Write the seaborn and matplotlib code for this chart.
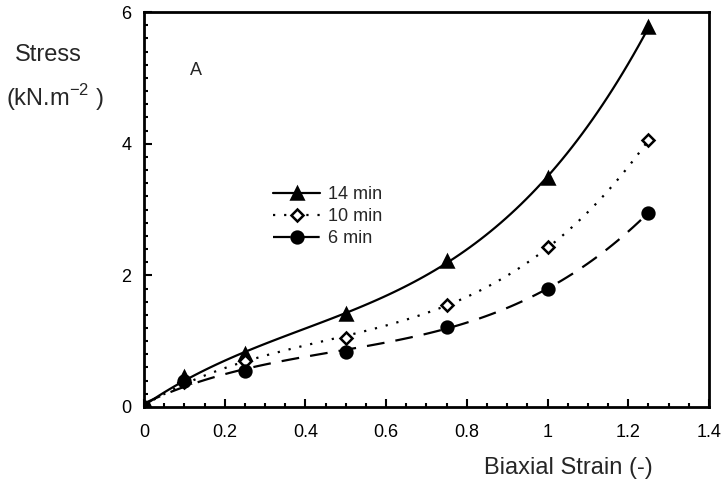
import numpy as np
import pandas as pd
import matplotlib
matplotlib.use("Agg")
import matplotlib.pyplot as plt
import seaborn as sns
from matplotlib.ticker import MultipleLocator, FormatStrFormatter
from matplotlib.lines import Line2D

# strain values and measured stress for the three times
strain = [0, 0.1, 0.25, 0.5, 0.75, 1.0, 1.25]
stress_14 = [0.0, 0.45, 0.80, 1.42, 2.22, 3.48, 5.77]
stress_10 = [0.0, 0.38, 0.70, 1.05, 1.55, 2.43, 4.05]
stress_6 = [0.0, 0.40, 0.55, 0.83, 1.22, 1.80, 2.95]
labels = ["14 min", "10 min", "6 min"]

data = pd.DataFrame({"strain": strain * 3,
                     "stress": stress_14 + stress_10 + stress_6,
                     "time": [labels[0]] * 7 + [labels[1]] * 7 + [labels[2]] * 7})

sns.set_style("ticks")
plt.rcParams["font.family"] = ["Liberation Sans", "DejaVu Sans"]

fig = plt.figure(figsize=(7.22, 4.86), dpi=100)
ax = fig.add_axes([0.1994, 0.1626, 0.7826, 0.8124])

# line style, marker, face colour, marker size
styles = {"14 min": ("-", "^", "black", 8),
          "10 min": ((0, (1, 4)), "D", "white", 6.5),
          "6 min": ((0, (8, 5)), "o", "black", 8.5)}

handles = []
for t in labels:
    ls, mk, fc, ms = styles[t]
    sub = data[data["time"] == t]
    sns.regplot(x="strain", y="stress", data=sub, order=3, ci=None, scatter=False,
                truncate=True, ax=ax, line_kws={"color": "black", "lw": 1.6, "ls": ls})
    ax.plot(sub["strain"], sub["stress"], ls="none", marker=mk, ms=ms,
            mfc=fc, mec="black", mew=1.8, zorder=5)
    handles.append(Line2D([], [], color="black", lw=1.6, ls=ls, marker=mk,
                          ms=ms, mfc=fc, mec="black", mew=1.8))

ax.set_xlim(0, 1.4)
ax.set_ylim(0, 6)
ax.xaxis.set_major_locator(MultipleLocator(0.2))
ax.xaxis.set_minor_locator(MultipleLocator(0.05))
ax.yaxis.set_major_locator(MultipleLocator(2))
ax.yaxis.set_minor_locator(MultipleLocator(0.2))
ax.xaxis.set_major_formatter(FormatStrFormatter("%g"))
ax.yaxis.set_major_formatter(FormatStrFormatter("%g"))
ax.tick_params(which="both", direction="in", width=1.5, labelsize=13, colors="black")
ax.tick_params(which="major", length=6)
ax.tick_params(axis="x", which="major", pad=12)
ax.tick_params(axis="y", which="major", pad=9)
ax.tick_params(which="minor", length=3)
for s in ax.spines.values():
    s.set_linewidth(2)
    s.set_color("black")
ax.set_xlabel("")
ax.set_ylabel("")

ax.legend(handles, labels, loc="upper left", bbox_to_anchor=(0.2, 0.6), frameon=False,
          fontsize=13, handlelength=2.6, handletextpad=0.45, labelspacing=0.28)

ax.text(0.13, 5.12, "A", fontsize=13, ha="center", va="center")
fig.text(15, 486 - 55, "Stress", fontsize=17, ha="left", va="center",
         transform=None)
fig.text(6, 486 - 98, "(kN.m$^{\\mathregular{-2}}$ )", fontsize=17, ha="left", va="center",
         transform=None)
fig.text(568, 486 - 468, "Biaxial Strain (-)", fontsize=17, ha="center", va="center",
         transform=None)

fig.savefig("out.png", dpi=100)
